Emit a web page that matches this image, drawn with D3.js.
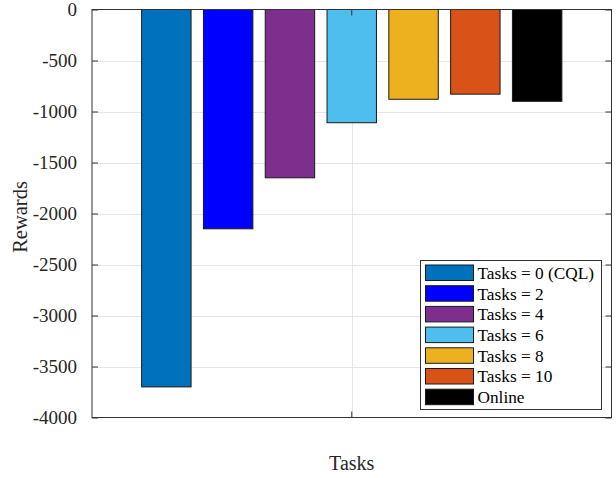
<!DOCTYPE html>
<html>
<head>
<meta charset="utf-8">
<script src="https://cdn.jsdelivr.net/npm/d3@7"></script>
<style>
  html, body { margin: 0; padding: 0; background: #fff; }
  svg { display: block; }
  text { font-family: "Liberation Serif", "Times New Roman", serif; fill: #262626; }
</style>
</head>
<body>
<svg id="chart" width="616" height="478"></svg>
<script>
const categories = ["Tasks = 0 (CQL)", "Tasks = 2", "Tasks = 4", "Tasks = 6", "Tasks = 8", "Tasks = 10", "Online"];
const rewards = [-3700, -2150, -1650, -1110, -880, -830, -900];
const colors = ["#0072BD", "#0000FF", "#7E2F8E", "#4DBEEE", "#EDB120", "#D95319", "#000000"];
const yTicks = [0, -500, -1000, -1500, -2000, -2500, -3000, -3500, -4000];
const xLabel = "Tasks";
const yLabel = "Rewards";

const svg = d3.select("#chart");
const L = 92, R = 611.5, T = 9.5, B = 417.5;
const cx = (L + R) / 2;
const step = 61.8;

const y = d3.scaleLinear().domain([0, -4000]).range([T, B]);
const x = d3.scaleBand().domain(categories)
  .range([cx - 3.5 * step, cx + 3.5 * step])
  .paddingInner(0.2).paddingOuter(0.1);

// grid
const grid = svg.append("g");
grid.selectAll("line.h").data(yTicks.slice(1, -1)).enter().append("line")
  .attr("x1", L).attr("x2", R)
  .attr("y1", d => Math.round(y(d)) + 0.5).attr("y2", d => Math.round(y(d)) + 0.5)
  .attr("stroke", "#e6e6e6").attr("stroke-width", 1);
grid.append("line").attr("x1", Math.round(cx) + 0.5).attr("x2", Math.round(cx) + 0.5)
  .attr("y1", T).attr("y2", B).attr("stroke", "#e6e6e6");

// bars
svg.append("g").selectAll("rect").data(rewards).enter().append("rect")
  .attr("x", (d, i) => x(categories[i]))
  .attr("width", x.bandwidth())
  .attr("y", y(0))
  .attr("height", d => y(d) - y(0))
  .attr("fill", (d, i) => colors[i])
  .attr("stroke", "#1a1a1a").attr("stroke-width", 1);

// axes box
const axc = "#333";
svg.append("rect").attr("x", L).attr("y", T).attr("width", R - L).attr("height", B - T)
  .attr("fill", "none").attr("stroke", axc).attr("stroke-width", 1);

// left axis ticks (inward) and labels
const yAxis = d3.axisLeft(y).tickValues(yTicks).tickSize(-6).tickPadding(15).tickFormat(d => d === 0 ? "0" : "-" + Math.abs(d));
const ga = svg.append("g").attr("transform", `translate(${L},0)`).call(yAxis)
  .attr("font-family", null).attr("font-size", null);
ga.select(".domain").remove();
ga.selectAll(".tick line").attr("stroke", axc);
ga.selectAll(".tick text")
  .style("font-family", "'Liberation Serif', serif")
  .style("font-size", "19px").style("fill", "#262626");
// right axis ticks
const gr = svg.append("g").attr("transform", `translate(${R},0)`).call(d3.axisRight(y).tickValues(yTicks).tickSize(-6).tickFormat(""));
gr.select(".domain").remove();
gr.selectAll(".tick line").attr("stroke", axc);

// x ticks top & bottom
svg.append("line").attr("x1", cx).attr("x2", cx).attr("y1", B).attr("y2", B - 6).attr("stroke", axc);
svg.append("line").attr("x1", cx).attr("x2", cx).attr("y1", T).attr("y2", T + 6).attr("stroke", axc);

// axis labels
svg.append("text").attr("x", cx).attr("y", 470).attr("text-anchor", "middle")
  .style("font-size", "20px").text(xLabel);
svg.append("text").attr("transform", `translate(27,217) rotate(-90)`).attr("text-anchor", "middle")
  .style("font-size", "20.5px").text(yLabel);

// legend
const lg = svg.append("g");
lg.append("rect").attr("x", 420.5).attr("y", 260.5).attr("width", 181).attr("height", 149)
  .attr("fill", "#fff").attr("stroke", axc).attr("stroke-width", 1);
const rowH = 20.7;
categories.forEach((c, i) => {
  const ry = 265 + i * rowH;
  lg.append("rect").attr("x", 425.5).attr("y", ry).attr("width", 48).attr("height", 15.5)
    .attr("fill", colors[i]).attr("stroke", "#1a1a1a").attr("stroke-width", 1);
  lg.append("text").attr("x", 477.5).attr("y", ry + 7.75).attr("dy", "0.35em")
    .style("font-size", "17.3px").style("fill", "#000").text(c);
});
</script>
</body>
</html>
